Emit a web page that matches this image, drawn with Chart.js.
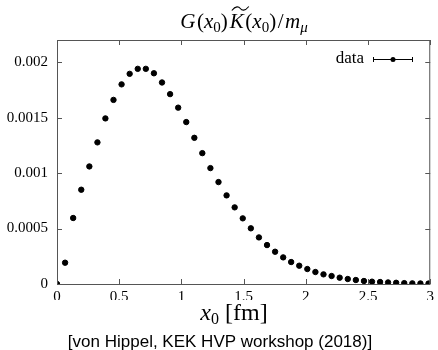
<!DOCTYPE html>
<html>
<head>
<meta charset="utf-8">
<script src="https://cdn.jsdelivr.net/npm/chart.js@4/dist/chart.umd.min.js"></script>
<style>
  html, body { margin: 0; padding: 0; background: #fff; }
  #wrap { width: 438px; height: 350px; position: relative; }
</style>
</head>
<body>
<div id="wrap"><canvas id="chart" width="438" height="350"></canvas></div>
<script>
// x0 in fm (lattice points)
var x0 = [0, 0.065, 0.130, 0.195, 0.260, 0.325, 0.389, 0.454, 0.519, 0.584,
	0.649, 0.714, 0.779, 0.844, 0.909, 0.974, 1.039, 1.104, 1.168, 1.233,
	1.298, 1.363, 1.428, 1.493, 1.558, 1.623, 1.688, 1.753, 1.818, 1.882,
	1.947, 2.012, 2.077, 2.142, 2.207, 2.272, 2.337, 2.402, 2.467, 2.532,
	2.597, 2.661, 2.726, 2.791, 2.856, 2.921, 2.986];

// G(x0) K(x0) / m_mu
var values = [0, 0.000192, 0.000595, 0.00085, 0.00106, 0.001277, 0.001493, 0.00166, 0.0018, 0.001895,
	0.00194, 0.00194, 0.0019, 0.001817, 0.001712, 0.00159, 0.00146, 0.001318, 0.00118, 0.001045,
	0.000919, 0.000799, 0.000691, 0.000592, 0.000502, 0.00042, 0.000351, 0.000291, 0.00024, 0.000198,
	0.000165, 0.000135, 0.000108, 0.000087, 0.000072, 0.000057, 0.000045, 0.000036, 0.000027, 0.000021,
	0.000018, 0.000014, 0.000011, 0.000008, 0.000006, 0.000005, 0.000004];

// statistical errors (small)
var errors = [0, 0.000003, 0.000005, 0.000007, 0.000009, 0.00001, 0.000012, 0.000013, 0.000014, 0.000015,
	0.000016, 0.000016, 0.000016, 0.000016, 0.000015, 0.000015, 0.000014, 0.000013, 0.000012, 0.000011,
	0.00001, 0.000009, 0.000008, 0.000007, 0.000006, 0.000005, 0.000005, 0.000004, 0.000004, 0.000003,
	0.000003, 0.000003, 0.000002, 0.000002, 0.000002, 0.000002, 0.000001, 0.000001, 0.000001, 0.000001,
	0.000001, 0.000001, 0.000001, 0.000001, 0.000001, 0.000001, 0.000001];

var xTicks = [0, 0.5, 1, 1.5, 2, 2.5, 3];
var yTicks = [0, 0.0005, 0.001, 0.0015, 0.002];
var legendLabel = "data";
var xLabel = "[fm]";
var caption = "[von Hippel, KEK HVP workshop (2018)]";

var points = [];
for (var i = 0; i < x0.length; i++) {
	points.push({ x: x0[i], y: values[i] });
}

var serif = "'Liberation Serif', 'DejaVu Serif', serif";
var frameColor = "#555";

// italic / upright text runs helper
function drawRuns(ctx, runs, x, y, align) {
	var total = 0;
	runs.forEach(function(r) {
		ctx.font = r.font;
		r.w = ctx.measureText(r.t).width;
		total += r.w + (r.gap || 0);
	});
	var cx = align == "center" ? x - total / 2 : x;
	runs.forEach(function(r) {
		ctx.font = r.font;
		ctx.fillText(r.t, cx, y + (r.dy || 0));
		r.x = cx;
		cx += r.w + (r.gap || 0);
	});
	return runs;
}

var decor = {
	id: "decor",
	afterDraw: function(chart) {
		var ctx = chart.ctx;
		var a = chart.chartArea;
		var xs = chart.scales.x, ys = chart.scales.y;
		ctx.save();

		// error bars
		ctx.strokeStyle = "#000";
		ctx.lineWidth = 1;
		for (var i = 0; i < points.length; i++) {
			var px = xs.getPixelForValue(x0[i]);
			var top = ys.getPixelForValue(values[i] + errors[i]);
			var bot = ys.getPixelForValue(values[i] - errors[i]);
			ctx.beginPath();
			ctx.moveTo(px, top);
			ctx.lineTo(px, bot);
			ctx.stroke();
		}

		// frame
		ctx.strokeStyle = frameColor;
		ctx.lineWidth = 1;
		ctx.strokeRect(a.left + 0.5, a.top + 0.5, a.right - a.left - 1, a.bottom - a.top);

		// inward ticks
		var tl = 5;
		ctx.beginPath();
		xTicks.forEach(function(v) {
			var p = Math.round(xs.getPixelForValue(v)) + 0.5;
			ctx.moveTo(p, a.bottom); ctx.lineTo(p, a.bottom - tl);
			ctx.moveTo(p, a.top); ctx.lineTo(p, a.top + tl);
		});
		yTicks.forEach(function(v) {
			var p = Math.round(ys.getPixelForValue(v)) + 0.5;
			ctx.moveTo(a.left, p); ctx.lineTo(a.left + tl, p);
			ctx.moveTo(a.right, p); ctx.lineTo(a.right - tl, p);
		});
		ctx.stroke();

		ctx.fillStyle = "#000";
		ctx.textBaseline = "alphabetic";

		// title G(x0) K~(x0) / m_mu
		var it = "italic 21px " + serif, up = "21px " + serif;
		var sub = "15px " + serif, subIt = "italic 15px " + serif;
		var runs = drawRuns(ctx, [
			{ t: "G", font: it, gap: 1.5 },
			{ t: "(", font: up },
			{ t: "x", font: it },
			{ t: "0", font: sub, dy: 4 },
			{ t: ")", font: up, gap: 2 },
			{ t: "K", font: it, gap: 1.5 },
			{ t: "(", font: up },
			{ t: "x", font: it },
			{ t: "0", font: sub, dy: 4 },
			{ t: ")", font: up, gap: 1.5 },
			{ t: "/", font: up, gap: 1.5 },
			{ t: "m", font: it },
			{ t: "\u03bc", font: subIt, dy: 4 }
		], 244, 28, "center");
		// wide tilde over K
		var k = runs[5];
		ctx.strokeStyle = "#000";
		ctx.lineWidth = 1.1;
		ctx.beginPath();
		ctx.moveTo(k.x + 2, 10.5);
		ctx.bezierCurveTo(k.x + 6, 5.5, k.x + 9, 6.5, k.x + 10.5, 8.5);
		ctx.bezierCurveTo(k.x + 12, 10.5, k.x + 15, 11.5, k.x + 19, 6.5);
		ctx.stroke();

		// x axis title
		drawRuns(ctx, [
			{ t: "x", font: "italic 24px " + serif },
			{ t: "0", font: "16px " + serif, dy: 4, gap: 6 },
			{ t: xLabel, font: "24px " + serif }
		], 234, 320, "center");

		// caption
		ctx.font = "17px 'Liberation Sans', 'DejaVu Sans', sans-serif";
		ctx.textAlign = "center";
		ctx.fillText(caption, 220, 347);

		// legend
		ctx.font = "17px " + serif;
		ctx.textAlign = "right";
		ctx.fillText(legendLabel, 364, 63);
		var ly = 59.5;
		ctx.strokeStyle = "#000";
		ctx.lineWidth = 1;
		ctx.beginPath();
		ctx.moveTo(373, ly); ctx.lineTo(413, ly);
		ctx.moveTo(373.5, ly - 2.5); ctx.lineTo(373.5, ly + 2.5);
		ctx.moveTo(412.5, ly - 2.5); ctx.lineTo(412.5, ly + 2.5);
		ctx.stroke();
		ctx.beginPath();
		ctx.arc(393, ly, 2.5, 0, Math.PI * 2);
		ctx.fill();

		ctx.restore();
	}
};

var ctx = document.getElementById("chart");

var chart = new Chart(ctx, {
	type: "scatter",
	data: {
		datasets: [{
			label: legendLabel,
			data: points,
			backgroundColor: "#000",
			borderColor: "#000",
			pointRadius: 2.7,
			pointHoverRadius: 2.7,
			showLine: false
		}]
	},
	options: {
		responsive: false,
		animation: false,
		events: [],
		layout: { padding: { top: 40, right: 6, bottom: 50, left: 0 } },
		plugins: {
			legend: { display: false },
			title: { display: false },
			tooltip: { enabled: false }
		},
		scales: {
			x: {
				type: "linear",
				min: 0,
				max: 3,
				afterFit: function(scale) { scale.height = 16; },
				afterBuildTicks: function(scale) {
					scale.ticks = xTicks.map(function(v) { return { value: v }; });
				},
				grid: { display: false, drawTicks: false },
				border: { display: false },
				ticks: {
					padding: 4,
					maxRotation: 0,
					color: "#000",
					font: { family: serif, size: 15 },
					callback: function(v) { return String(v); }
				}
			},
			y: {
				type: "linear",
				min: 0,
				max: 0.0022,
				afterFit: function(scale) { scale.width = 57; },
				afterBuildTicks: function(scale) {
					scale.ticks = yTicks.map(function(v) { return { value: v }; });
				},
				grid: { display: false, drawTicks: false },
				border: { display: false },
				ticks: {
					padding: 9,
					color: "#000",
					font: { family: serif, size: 15 },
					callback: function(v) { return String(v); }
				}
			}
		}
	},
	plugins: [decor]
});
</script>
</body>
</html>
